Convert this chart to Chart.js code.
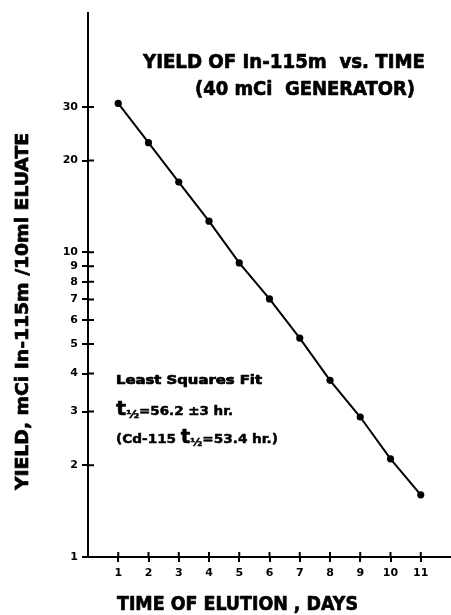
<!DOCTYPE html>
<html>
<head>
<meta charset="UTF-8">
<script src="https://cdn.jsdelivr.net/npm/chart.js"></script>
<style>
  html, body { margin: 0; padding: 0; background: #fff; }
  #wrap { width: 451px; height: 615px; position: relative; }
</style>
</head>
<body>
<div id="wrap"><canvas id="c"></canvas></div>
<script>
// data (log y axis)
const days = [1, 2, 3, 4, 5, 6, 7, 8, 9, 10, 11];
const yieldMCi = [30.8, 22.9, 17.0, 12.65, 9.23, 7.03, 5.23, 3.80, 2.88, 2.10, 1.60];
const yTickValues = [1, 2, 3, 4, 5, 6, 7, 8, 9, 10, 20, 30];
const xTickValues = [1, 2, 3, 4, 5, 6, 7, 8, 9, 10, 11];

const FONT = '"DejaVu Sans", sans-serif';

// draw a text squeezed/stretched to a given width (with a thin stroke to look heavier)
function fitText(ctx, str, x, y, size, width, rot) {
    ctx.save();
    ctx.font = 'bold ' + size + 'px ' + FONT;
    const w = ctx.measureText(str).width;
    ctx.translate(x, y);
    if (rot) ctx.rotate(rot);
    ctx.scale(width / w, 1);
    ctx.textAlign = 'left';
    ctx.textBaseline = 'middle';
    ctx.fillStyle = '#000';
    ctx.strokeStyle = '#000';
    ctx.lineWidth = 0.7;
    ctx.lineJoin = 'round';
    ctx.fillText(str, 0, 0);
    ctx.strokeText(str, 0, 0);
    ctx.restore();
}

// a line made of pieces [text, size, dy], scaled as a group
function fitPieces(ctx, pieces, x, y, width) {
    ctx.save();
    let total = 0;
    pieces.forEach(p => {
        ctx.font = 'bold ' + p[1] + 'px ' + FONT;
        total += ctx.measureText(p[0]).width;
    });
    ctx.translate(x, y);
    ctx.scale(width / total, 1);
    ctx.textAlign = 'left';
    ctx.textBaseline = 'alphabetic';
    ctx.fillStyle = '#000';
    ctx.strokeStyle = '#000';
    ctx.lineWidth = 0.5;
    ctx.lineJoin = 'round';
    let cx = 0;
    pieces.forEach(p => {
        ctx.font = 'bold ' + p[1] + 'px ' + FONT;
        ctx.fillText(p[0], cx, p[2] || 0);
        ctx.strokeText(p[0], cx, p[2] || 0);
        cx += ctx.measureText(p[0]).width;
    });
    ctx.restore();
}

const decor = {
    id: 'decor',
    afterDraw(chart) {
        const ctx = chart.ctx;
        const xs = chart.scales.x, ys = chart.scales.y;
        // inner half of the crossing tick marks
        ctx.save();
        ctx.strokeStyle = '#000';
        ctx.lineWidth = 2;
        ctx.beginPath();
        ys.ticks.forEach((t, i) => {
            const py = ys.getPixelForTick(i);
            ctx.moveTo(xs.left, py);
            ctx.lineTo(xs.left + 6, py);
        });
        xs.ticks.forEach((t, i) => {
            const px = xs.getPixelForTick(i);
            ctx.moveTo(px, ys.bottom);
            ctx.lineTo(px, ys.bottom - 5);
        });
        ctx.stroke();
        ctx.restore();

        fitText(ctx, 'YIELD OF In-115m  vs. TIME', 143, 63, 20, 282);
        fitText(ctx, '(40 mCi  GENERATOR)', 195, 90, 20, 220);
        fitText(ctx, 'TIME OF ELUTION , DAYS', 117, 605, 19, 241);
        fitText(ctx, 'YIELD, mCi In-115m /10ml ELUATE', 24, 490, 17, 357, -Math.PI / 2);

        fitText(ctx, 'Least Squares Fit', 116, 381, 12, 146);
        fitPieces(ctx, [['t', 19, 0], ['½', 11, 3], ['=56.2 ±3 hr.', 12, 0]], 116, 415, 117);
        fitPieces(ctx, [['(Cd-115 ', 13, 0], ['t', 19, 0], ['½', 11, 3], ['=53.4 hr.)', 13, 0]], 116, 443, 162);
    }
};

new Chart(document.getElementById('c'), {
    type: 'line',
    data: {
        datasets: [{
            data: days.map((d, i) => ({ x: d, y: yieldMCi[i] })),
            borderColor: '#000',
            borderWidth: 2,
            pointRadius: 3.6,
            pointBackgroundColor: '#000',
            pointBorderColor: '#000',
            pointBorderWidth: 0,
            tension: 0
        }]
    },
    options: {
        responsive: true,
        maintainAspectRatio: false,
        animation: false,
        events: [],
        layout: { autoPadding: false, padding: { top: 13, right: 0, left: 0, bottom: 0 } },
        plugins: { legend: { display: false }, tooltip: { enabled: false } },
        scales: {
            x: {
                type: 'linear',
                min: 0,
                max: 12,
                afterFit: s => { s.height = 58; },
                afterBuildTicks: s => { s.ticks = xTickValues.map(v => ({ value: v })); },
                grid: { drawOnChartArea: false, drawTicks: true, tickLength: 5, color: '#000', lineWidth: 2 },
                border: { display: true, color: '#000', width: 2 },
                ticks: {
                    color: '#000',
                    padding: 5,
                    maxRotation: 0,
                    autoSkip: false,
                    font: { family: FONT, size: 11, weight: 'bold' },
                    callback: v => String(v)
                }
            },
            y: {
                type: 'logarithmic',
                min: 1,
                max: 61,
                afterFit: s => { s.width = 88; },
                afterBuildTicks: s => { s.ticks = yTickValues.map(v => ({ value: v })); },
                grid: { drawOnChartArea: false, drawTicks: true, tickLength: 6, color: '#000', lineWidth: 2 },
                border: { display: true, color: '#000', width: 2 },
                ticks: {
                    color: '#000',
                    padding: 4,
                    autoSkip: false,
                    font: { family: FONT, size: 11, weight: 'bold' },
                    callback: v => String(v)
                }
            }
        }
    },
    plugins: [decor]
});
</script>
</body>
</html>
